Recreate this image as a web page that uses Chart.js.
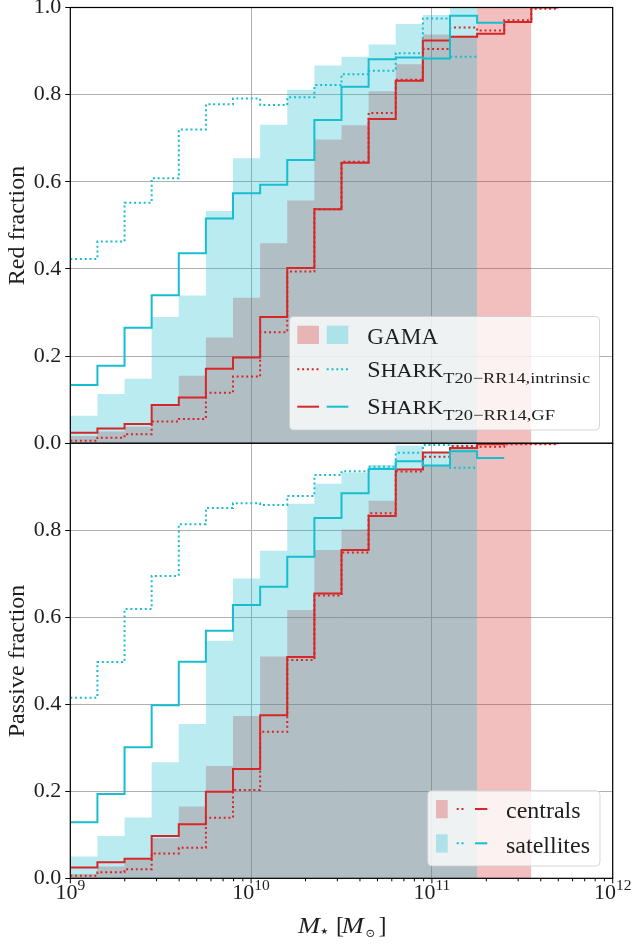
<!DOCTYPE html>
<html>
<head>
<meta charset="utf-8">
<script src="https://cdn.jsdelivr.net/npm/chart.js@4.4.1/dist/chart.umd.min.js"></script>
<style>
  body { margin: 0; background: #fff; }
  #wrap { position: relative; width: 635px; height: 944px; }
  canvas { position: absolute; left: 0; }
  #topChart { top: 0; }
  #botChart { top: 436px; }
</style>
</head>
<body>
<div id="wrap">
  <canvas id="topChart" width="635" height="450"></canvas>
  <canvas id="botChart" width="635" height="508"></canvas>
</div>
<script>
// bin edges in log10(M*/Msun), 0.15 dex wide
const binEdges = [9.00, 9.15, 9.30, 9.45, 9.60, 9.75, 9.90, 10.05, 10.20, 10.35,
                  10.50, 10.65, 10.80, 10.95, 11.10, 11.25, 11.40, 11.55, 11.70];
const decades = [9, 10, 11, 12];
const yTicks = [0, 0.2, 0.4, 0.6, 0.8, 1.0];

// top panel: red fraction
const gamaCenRed = [0.017, 0.027, 0.038, 0.085, 0.155, 0.243, 0.334, 0.459, 0.557, 0.697, 0.730, 0.808, 0.870, 0.938, 0.935, 1.0, 1.0];
const gamaSatRed = [0.063, 0.113, 0.148, 0.290, 0.339, 0.533, 0.654, 0.731, 0.811, 0.867, 0.887, 0.915, 0.962, 0.983, 1.0];
const sharkCenRedInt = [0.006, 0.013, 0.021, 0.050, 0.056, 0.116, 0.153, 0.255, 0.394, 0.537, 0.646, 0.758, 0.834, 0.905, 0.954, 0.947, 0.971, 0.997];
const sharkSatRedInt = [0.423, 0.463, 0.552, 0.608, 0.720, 0.778, 0.791, 0.776, 0.794, 0.822, 0.847, 0.855, 0.895, 0.975, 0.887];
const sharkCenRedGF = [0.024, 0.034, 0.044, 0.088, 0.105, 0.171, 0.197, 0.290, 0.402, 0.537, 0.644, 0.744, 0.832, 0.924, 0.933, 0.940, 0.967, 1.0];
const sharkSatRedGF = [0.134, 0.178, 0.265, 0.340, 0.436, 0.516, 0.574, 0.593, 0.650, 0.742, 0.818, 0.881, 0.885, 0.883, 0.981, 0.965];

// bottom panel: passive fraction
const gamaCenPas = [0.010, 0.027, 0.042, 0.092, 0.165, 0.258, 0.373, 0.510, 0.617, 0.755, 0.802, 0.868, 0.937, 0.950, 0.990, 1.0, 1.0];
const gamaSatPas = [0.050, 0.097, 0.140, 0.267, 0.355, 0.546, 0.689, 0.753, 0.861, 0.907, 0.933, 0.950, 0.995, 0.980, 1.0];
const sharkCenPasInt = [0.006, 0.014, 0.021, 0.057, 0.070, 0.139, 0.203, 0.337, 0.502, 0.650, 0.749, 0.839, 0.935, 0.969, 0.994, 0.992, 0.998, 0.998];
const sharkSatPasInt = [0.415, 0.497, 0.619, 0.695, 0.814, 0.851, 0.862, 0.858, 0.879, 0.927, 0.936, 0.946, 0.978, 0.996, 0.944];
const sharkCenPasGF = [0.025, 0.037, 0.045, 0.097, 0.124, 0.199, 0.251, 0.375, 0.509, 0.655, 0.755, 0.833, 0.940, 0.979, 0.989, 0.998, 1.0, 1.0];
const sharkSatPasGF = [0.129, 0.194, 0.301, 0.398, 0.498, 0.569, 0.628, 0.670, 0.739, 0.828, 0.885, 0.941, 0.959, 0.949, 0.982, 0.966];

const RED = '#d62728', CYAN = '#17becf';
const RED_FILL = 'rgba(214,39,40,0.3)', CYAN_FILL = 'rgba(23,190,207,0.3)';
const GRID = '#b0b0b0';
const SERIF = "'Liberation Serif', 'DejaVu Serif', serif";
const SANS = "'DejaVu Sans', sans-serif";
const INK = '#1e1e1e';
const DOT = [2, 2.8];

// histogram points: one at each left edge, plus the closing right edge
function steps(vals) {
    const pts = vals.map((v, i) => ({x: Math.pow(10, binEdges[i]), y: v}));
    pts.push({x: Math.pow(10, binEdges[vals.length]), y: vals[vals.length - 1]});
    return pts;
}

function makeDatasets(cenBar, satBar, cenInt, satInt, cenGF, satGF) {
    const bar = (vals, col, order) => ({
        data: steps(vals), stepped: true, fill: 'origin', backgroundColor: col,
        borderColor: 'transparent', borderWidth: 0, pointRadius: 0, order: order
    });
    const line = (vals, col, dash, order) => ({
        data: steps(vals), stepped: true, fill: false, borderColor: col,
        borderWidth: 2, borderDash: dash, pointRadius: 0, order: order
    });
    return [
        bar(cenBar, RED_FILL, 10),
        bar(satBar, CYAN_FILL, 9),
        line(cenInt, RED, DOT, 4),
        line(satInt, CYAN, DOT, 3),
        line(cenGF, RED, [], 2),
        line(satGF, CYAN, [], 1)
    ];
}

// text helper, optional horizontal stretch to a target width
function txt(ctx, s, x, y, size, opt) {
    opt = opt || {};
    ctx.save();
    ctx.font = (opt.italic ? 'italic ' : '') + size + 'px ' + (opt.family || SERIF);
    ctx.fillStyle = INK;
    ctx.textBaseline = 'alphabetic';
    ctx.textAlign = 'left';
    let w = ctx.measureText(s).width;
    ctx.translate(x, y);
    if (opt.width) { ctx.scale(opt.width / w, 1); w = opt.width; }
    ctx.fillText(s, 0, 0);
    ctx.restore();
    return w;
}

function hline(ctx, x0, x1, y, col, dash) {
    ctx.save();
    ctx.strokeStyle = col;
    ctx.lineWidth = 2;
    ctx.setLineDash(dash);
    ctx.beginPath();
    ctx.moveTo(x0, y);
    ctx.lineTo(x1, y);
    ctx.stroke();
    ctx.restore();
}

function legendBox(ctx, x, y, w, h) {
    ctx.save();
    ctx.beginPath();
    ctx.roundRect(x, y, w, h, 4);
    ctx.fillStyle = 'rgba(255,255,255,0.8)';
    ctx.fill();
    ctx.strokeStyle = 'rgba(204,204,204,0.8)';
    ctx.lineWidth = 1;
    ctx.stroke();
    ctx.restore();
}

function yTitle(ctx, s, cy) {
    ctx.save();
    ctx.translate(24, cy);
    ctx.rotate(-Math.PI / 2);
    ctx.font = '24px ' + SERIF;
    ctx.fillStyle = INK;
    ctx.textAlign = 'center';
    ctx.fillText(s, 0, 0);
    ctx.restore();
}

function sharkLabel(ctx, x, y, sub, subY, subW) {
    const wS = txt(ctx, 'S', x, y, 24);
    txt(ctx, 'HARK', x + wS, y, 18, {width: 443.3 - x - wS});
    txt(ctx, sub, 443.3, subY, 15, {width: subW});
}

const framePlugin = {
    id: 'frame',
    afterDatasetsDraw(chart) {
        const a = chart.chartArea, ctx = chart.ctx;
        ctx.save();
        ctx.strokeStyle = '#000';
        ctx.lineWidth = 1.2;
        ctx.strokeRect(a.left, a.top, a.right - a.left, a.bottom - a.top);
        ctx.restore();
    }
};

const topDecor = {
    id: 'topDecor',
    afterDraw(chart) {
        const ctx = chart.ctx;
        yTitle(ctx, 'Red fraction', 225.5);
        legendBox(ctx, 289.5, 316.5, 310, 113.5);
        ctx.fillStyle = RED_FILL;
        ctx.fillRect(297.3, 325.7, 21.7, 18.3);
        ctx.fillStyle = CYAN_FILL;
        ctx.fillRect(326.7, 325.7, 21.6, 18.3);
        txt(ctx, 'GAMA', 367.3, 344, 24, {width: 71});
        hline(ctx, 297.3, 319, 369.3, RED, DOT);
        hline(ctx, 326.7, 348.3, 369.3, CYAN, DOT);
        sharkLabel(ctx, 367.3, 376.7, 'T20\u2212RR14,intrinsic', 382.7, 146.7);
        hline(ctx, 297.3, 319, 406.7, RED, []);
        hline(ctx, 326.7, 348.3, 406.7, CYAN, []);
        sharkLabel(ctx, 367.3, 414, 'T20\u2212RR14,GF', 419.5, 111.7);
    }
};

const botDecor = {
    id: 'botDecor',
    afterDraw(chart) {
        const ctx = chart.ctx, xs = chart.scales.x, a = chart.chartArea;
        yTitle(ctx, 'Passive fraction', 225);

        // x ticks (major + minor) and labels
        ctx.save();
        ctx.strokeStyle = '#000';
        ctx.lineWidth = 1;
        decades.forEach(d => {
            for (let k = 1; k <= 9; k++) {
                if (d === 12 && k > 1) break;
                const px = xs.getPixelForValue(k * Math.pow(10, d));
                const len = k === 1 ? 5 : 3;
                ctx.beginPath();
                ctx.moveTo(px, a.bottom);
                ctx.lineTo(px, a.bottom + len);
                ctx.stroke();
            }
        });
        ctx.restore();
        decades.forEach(d => {
            const px = xs.getPixelForValue(Math.pow(10, d));
            ctx.save();
            ctx.font = '22px ' + SERIF;
            const w1 = ctx.measureText('10').width;
            ctx.font = '15.5px ' + SERIF;
            const w2 = ctx.measureText(String(d)).width;
            ctx.restore();
            const x0 = px - (w1 + w2) / 2;
            txt(ctx, '10', x0, 463, 22);
            txt(ctx, String(d), x0 + w1, 454, 15.5);
        });

        // x title: M_star [M_sun]
        txt(ctx, 'M', 298, 497, 24, {italic: true, width: 22});
        txt(ctx, '\u2605', 320.5, 497.5, 8.5, {family: SANS});
        txt(ctx, '[', 336, 497, 24);
        txt(ctx, 'M', 341.7, 497, 24, {italic: true, width: 22});
        txt(ctx, '\u2299', 365.5, 501, 11.5, {family: SANS});
        txt(ctx, ']', 378.5, 497, 24);

        // legend
        legendBox(ctx, 427.7, 354.7, 172.3, 75.3);
        ctx.fillStyle = RED_FILL;
        ctx.fillRect(436, 364, 11.7, 18.3);
        hline(ctx, 456.7, 464.5, 373, RED, DOT);
        hline(ctx, 475, 487.3, 373, RED, []);
        txt(ctx, 'centrals', 506, 382.3, 24);
        ctx.fillStyle = CYAN_FILL;
        ctx.fillRect(436, 398.3, 11.7, 18.3);
        hline(ctx, 456.7, 464.5, 407.3, CYAN, DOT);
        hline(ctx, 475, 487.3, 407.3, CYAN, []);
        txt(ctx, 'satellites', 506, 416.7, 24);
    }
};

function makeOptions(padTop, xHeight, yLabel) {
    return {
        responsive: false,
        animation: false,
        events: [],
        layout: {padding: {top: padTop, right: 22.3, bottom: 0, left: 0}},
        plugins: {legend: {display: false}, tooltip: {enabled: false}},
        scales: {
            x: {
                type: 'logarithmic',
                min: Math.pow(10, decades[0]),
                max: Math.pow(10, decades[decades.length - 1]),
                afterBuildTicks: s => { s.ticks = decades.map(d => ({value: Math.pow(10, d), major: true})); },
                ticks: {display: false},
                grid: {color: GRID, lineWidth: 1, drawTicks: false},
                border: {display: false},
                afterFit: s => { s.height = xHeight; s.paddingLeft = 0; s.paddingRight = 0; }
            },
            y: {
                min: 0,
                max: 1,
                afterBuildTicks: s => { s.ticks = yTicks.map(v => ({value: v})); },
                ticks: {
                    padding: 4, color: INK, font: {family: SERIF, size: 22},
                    callback: yLabel
                },
                grid: {color: GRID, lineWidth: 1, tickLength: 5, tickColor: '#000', tickWidth: 1},
                border: {display: false},
                afterFit: s => { s.width = 70.3; s.paddingTop = 0; s.paddingBottom = 0; }
            }
        }
    };
}

new Chart(document.getElementById('topChart'), {
    type: 'line',
    data: {datasets: makeDatasets(gamaCenRed, gamaSatRed, sharkCenRedInt, sharkSatRedInt, sharkCenRedGF, sharkSatRedGF)},
    options: makeOptions(7.5, 6.7, v => v.toFixed(1)),
    plugins: [framePlugin, topDecor]
});

new Chart(document.getElementById('botChart'), {
    type: 'line',
    data: {datasets: makeDatasets(gamaCenPas, gamaSatPas, sharkCenPasInt, sharkSatPasInt, sharkCenPasGF, sharkSatPasGF)},
    options: makeOptions(7.3, 65.7, v => v >= 1 ? '' : v.toFixed(1)),
    plugins: [framePlugin, botDecor]
});
</script>
</body>
</html>
